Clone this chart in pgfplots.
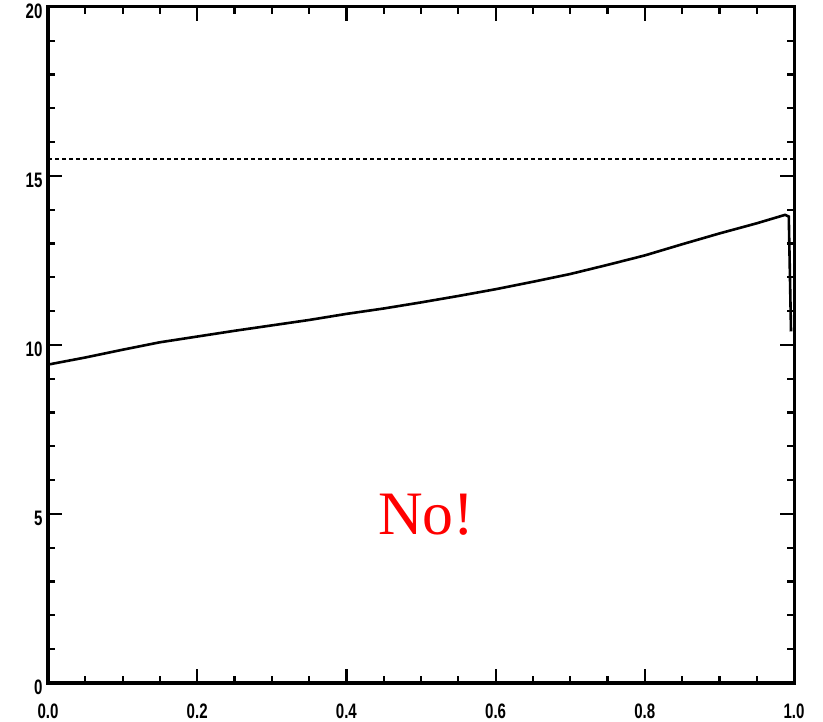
\documentclass[border=0pt]{standalone}
\usepackage{pgfplots}
\pgfplotsset{compat=1.18}
\usepackage{fontspec}
\setmainfont{Liberation Serif}
\newfontfamily\tickfont{Liberation Sans}
\usepackage{graphicx}
\begin{document}
\begin{tikzpicture}
\begin{axis}[
  at={(0,0)}, anchor=south west,
  scale only axis, width=746bp, height=676bp,
  xmin=0, xmax=1, ymin=0, ymax=20,
  xtick={0,0.2,0.4,0.6,0.8,1.0}, ytick={0,5,10,15,20},
  minor x tick num=3, minor y tick num=4,
  major tick length=14bp, minor tick length=7bp,
  axis line style={line width=3bp},
  tick style={black, line width=2.2bp},
  /pgf/number format/assume math mode=true,
  xticklabel={\scalebox{0.72}[1]{\tickfont\bfseries\fontsize{21}{21}\selectfont\pgfmathprintnumber[fixed,fixed zerofill,precision=1]{\tick}}},
  yticklabel={\scalebox{0.72}[1]{\tickfont\bfseries\fontsize{21}{21}\selectfont\pgfmathprintnumber[fixed,precision=0]{\tick}}},
  xticklabel style={yshift=-17bp},
  yticklabel style={xshift=-2bp, yshift=-4bp},
  clip=false,
]
\addplot[black, line width=2.6bp, dash pattern=on 4bp off 3bp] coordinates {(0,15.5) (1,15.5)};
\addplot[black, line width=2.6bp] coordinates {
(0,9.42) (0.05,9.63) (0.1,9.86) (0.15,10.08) (0.2,10.25) (0.25,10.42)
(0.3,10.58) (0.35,10.74) (0.4,10.92) (0.45,11.08) (0.5,11.26) (0.55,11.45)
(0.6,11.65) (0.65,11.87) (0.7,12.1) (0.75,12.37) (0.8,12.65) (0.85,12.98)
(0.9,13.3) (0.95,13.6) (0.988,13.85) (0.993,13.8) (0.996,10.4)
};
\node[text=red, font=\fontsize{62}{62}\selectfont] at (axis cs:0.507,4.97) {No!};
\end{axis}
\pgfresetboundingbox
\path[use as bounding box] (-48bp,-39bp) rectangle (775bp,683bp);
\end{tikzpicture}
\end{document}
